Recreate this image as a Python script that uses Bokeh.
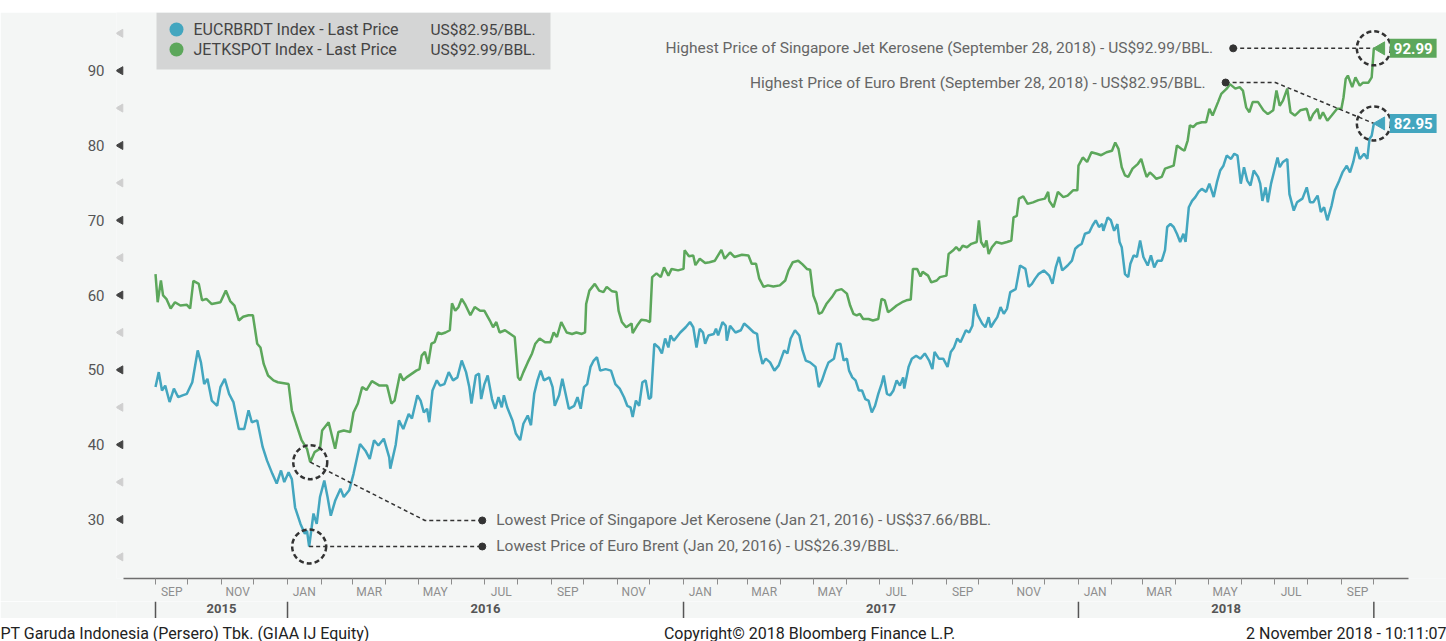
import numpy as np
import pandas as pd
from bokeh.plotting import figure
from bokeh.models import Range1d, FixedTicker, BoxAnnotation, Label, ColumnDataSource, Spacer
from bokeh.layouts import column
from bokeh.embed import file_html
from bokeh.resources import INLINE
from bokeh.core.properties import value

# ---------------- data ----------------
BASE_DATE = "2015-09-01"   # day 0 of the day offsets below

# Singapore Jet Kerosene (JETKSPOT Index), days since BASE_DATE and US$/bbl
jet_days = [0,2,5,7,10,14,18,23,29,32,35,40,43,47,52,60,65,69,73,77,81,86,90,94,97,100,104,109,113,123,126,130,135,140,143,147,152,154,160,166,169,174,180,183,187,191,195,200,207,214,218,221,226,229,232,237,241,244,246,249,252,255,258,261,264,268,272,274,277,280,283,286,291,295,300,304,309,312,315,318,323,328,332,335,337,340,344,348,351,355,360,365,368,371,375,380,385,389,394,397,398,401,406,410,414,417,422,426,428,431,435,440,441,445,449,454,457,459,463,467,470,474,477,483,488,489,493,497,499,503,508,512,517,523,526,531,535,542,548,551,555,558,562,566,571,577,582,585,589,594,598,602,605,608,611,613,616,620,625,629,634,639,642,645,648,651,654,659,663,668,671,674,677,680,685,690,694,698,700,704,707,709,714,717,722,725,731,733,737,740,743,746,750,754,759,761,763,766,768,770,773,777,782,787,791,793,796,798,802,806,811,816,822,825,826,830,834,839,843,848,852,853,857,861,865,870,874,879,884,887,890,893,896,899,903,908,911,914,916,919,922,925,930,933,937,941,944,948,951,954,956,959,962,967,971,974,977,982,985,990,993,998,1002,1005,1008,1011,1014,1019,1024,1028,1033,1036,1039,1042,1046,1049,1053,1058,1064,1067,1070,1074,1076,1079,1083,1087,1092,1096,1098,1100,1102,1106,1109,1113,1116,1121,1124,1126]
jet_vals = [62.8,59.05,61.95,59.95,59.5,58.2,59.05,58.6,58.7,58.2,61.9,61.5,59.3,59.5,58.8,59.05,60.6,59.2,58.6,56.6,57.1,57.3,57.3,53.5,53.0,50.8,49.25,48.6,48.35,48.1,44.6,42.8,40.6,39.45,37.66,39.0,39.45,41.9,43.0,39.45,41.7,41.9,41.7,44.3,45.5,47.7,47.3,48.5,47.9,47.9,45.5,45.9,49.5,48.6,49.0,49.5,49.9,50.1,51.9,52.4,50.8,53.5,53.7,55.0,54.8,55.0,55.3,58.9,57.9,58.4,59.5,58.8,57.3,58.4,57.9,57.9,56.6,55.7,56.4,55.0,55.3,54.8,54.4,49.0,48.6,49.7,51.0,52.2,53.5,54.2,53.7,53.7,55.0,54.4,56.4,55.0,54.8,55.0,54.8,55.0,58.8,60.6,61.5,60.6,60.4,61.1,60.5,60.4,57.9,56.4,55.7,56.2,54.9,55.9,56.7,56.6,56.4,62.4,62.9,62.4,63.7,62.6,63.5,63.3,63.5,66.0,65.2,65.3,64.0,64.85,64.3,64.4,64.6,66.05,64.85,65.7,65.1,65.4,65.3,64.2,64.2,62.2,61.1,61.3,61.15,61.3,61.95,63.3,64.4,64.6,64.1,63.5,63.4,59.95,58.8,57.5,57.7,58.8,59.7,60.6,60.8,60.2,58.6,57.5,57.3,57.5,56.8,56.8,56.6,56.8,59.5,59.3,57.7,58.0,58.6,59.05,59.3,59.4,63.5,63.5,62.5,63.1,62.6,61.7,61.95,62.4,62.6,65.5,65.95,66.4,65.95,66.6,66.4,66.85,67.1,70.0,67.1,66.4,67.3,65.5,66.4,67.1,66.9,67.1,67.3,70.4,70.6,72.9,73.2,72.2,72.4,72.7,72.9,73.8,72.6,71.75,73.8,73.1,73.3,74.0,74.0,77.3,78.4,77.8,79.1,78.9,78.7,79.1,79.3,80.4,79.55,77.1,76.0,75.8,76.9,77.55,78.2,76.7,75.8,76.4,76.0,75.55,75.8,76.9,77.1,77.3,80.0,79.55,79.3,80.7,82.7,82.45,82.9,83.1,83.1,84.9,84.0,85.8,86.9,87.6,88.2,87.6,87.8,87.35,85.1,84.45,85.8,85.8,84.7,84.2,84.7,87.35,85.3,86.0,87.6,84.45,84.0,84.7,84.9,83.3,84.2,84.9,83.55,84.45,83.3,84.0,84.9,84.9,86.45,88.9,89.35,87.8,89.1,88.0,88.4,88.4,89.1,92.99]

# Euro Brent (EUCRBRDT Index), days since BASE_DATE and US$/bbl
brent_days = [0,3,6,9,13,17,21,25,29,34,39,42,45,48,52,57,60,64,68,72,77,82,86,89,94,99,103,108,112,116,119,123,126,129,134,138,140,142,146,149,152,156,159,162,166,171,174,179,183,189,194,198,202,206,211,216,217,222,225,229,234,237,242,245,248,251,253,256,260,263,267,271,275,279,283,287,290,292,296,299,301,304,307,311,314,317,320,322,325,330,333,337,340,344,347,350,353,356,359,364,367,369,373,376,379,382,387,390,393,396,399,402,405,408,411,416,421,425,429,433,436,439,441,444,447,450,453,456,458,461,465,468,471,474,476,479,485,490,494,497,500,503,506,508,511,516,518,520,524,527,528,531,536,541,544,548,553,556,558,561,564,568,572,576,581,584,587,591,595,598,601,605,610,613,616,619,622,627,630,633,636,639,641,644,647,650,653,656,659,662,665,668,671,673,676,679,682,685,688,691,692,696,699,703,707,711,715,718,720,724,728,732,735,738,741,744,749,752,755,757,760,764,767,770,772,775,778,781,784,787,790,795,799,804,807,810,813,816,821,826,829,832,835,838,843,847,850,853,856,859,863,866,869,872,875,876,880,883,886,889,891,893,896,899,901,904,907,910,913,917,920,923,926,930,933,935,938,941,944,947,950,952,955,958,961,964,967,971,974,978,981,984,987,990,994,997,1000,1003,1006,1009,1012,1015,1019,1021,1023,1026,1028,1031,1034,1037,1039,1042,1046,1048,1052,1055,1060,1064,1067,1070,1074,1077,1080,1083,1087,1090,1094,1097,1101,1104,1107,1110,1113,1117,1120,1122,1124,1126]
brent_vals = [47.7,49.7,47.25,47.9,45.7,47.5,46.35,46.6,46.8,48.35,52.6,51.0,48.1,48.8,45.9,45.2,47.7,48.8,46.8,45.7,42.1,42.1,44.6,43.0,43.25,39.7,37.9,36.1,34.8,36.55,35.0,36.3,35.4,31.6,29.4,28.1,28.5,26.39,30.8,29.4,33.0,35.2,33.0,30.5,32.5,34.1,33.0,33.9,36.1,40.1,39.2,38.1,40.6,39.9,40.8,38.3,36.8,40.0,43.25,42.1,44.1,43.5,46.6,45.9,44.3,44.8,43.0,47.25,48.6,47.9,48.1,49.7,48.6,49.0,51.25,49.7,47.7,45.5,49.25,49.5,46.1,48.1,49.25,46.1,44.8,46.35,45.0,46.6,45.0,43.2,41.5,40.6,42.8,43.9,42.6,46.8,48.6,49.9,48.6,49.0,47.7,45.2,46.6,48.8,46.8,44.8,45.2,46.35,44.8,47.7,48.1,50.4,51.25,51.7,49.9,50.1,49.9,48.1,47.5,46.35,45.2,45.0,43.7,45.9,45.2,48.35,48.6,46.1,46.35,53.5,53.0,52.2,54.2,53.0,54.6,53.9,55.0,55.7,56.4,55.7,53.0,55.5,55.0,53.5,54.6,54.8,55.5,54.6,56.4,55.9,53.9,55.9,55.0,55.3,56.2,55.7,55.0,54.8,52.6,50.8,51.5,51.0,49.9,50.6,52.6,52.2,54.2,55.3,54.6,52.6,51.25,51.0,50.4,47.7,48.6,49.9,51.0,51.5,53.5,53.5,51.25,51.5,49.9,49.0,48.6,47.25,47.25,46.1,45.9,44.3,45.2,46.8,48.1,49.25,46.8,46.6,47.25,48.6,47.9,49.0,47.5,50.4,51.5,51.9,51.5,52.2,51.25,50.1,52.4,51.5,51.5,50.4,52.4,53.0,54.2,53.7,55.3,55.0,55.9,58.8,57.3,56.2,55.7,57.05,55.7,56.4,57.05,58.4,57.5,58.2,60.4,60.8,63.95,63.5,61.1,61.5,62.2,62.8,63.3,62.6,61.5,63.7,65.1,63.3,63.95,64.6,66.2,66.6,66.85,68.2,68.4,69.3,70.0,69.1,69.5,68.6,70.4,70.0,68.6,69.5,67.1,66.4,62.8,62.4,64.2,65.3,65.1,67.3,65.1,63.95,65.3,63.7,64.6,64.6,66.0,69.1,69.5,69.1,68.2,67.1,68.2,67.1,71.75,72.6,73.1,73.8,74.2,73.8,74.9,73.1,75.1,76.65,77.3,78.65,78.2,78.9,78.65,74.9,77.1,75.3,74.65,76.65,75.8,74.9,72.6,74.4,72.4,74.9,76.65,78.4,77.1,77.8,78.2,73.5,71.3,72.4,72.9,74.4,72.4,72.4,73.3,71.1,71.75,70.0,72.0,74.0,75.3,76.4,77.3,76.4,77.8,79.8,78.2,78.9,78.2,80.9,81.3,82.95]

series_names = ["EUCRBRDT Index - Last Price", "JETKSPOT Index - Last Price"]
series_last = ["US$82.95/BBL.", "US$92.99/BBL."]
last_tags = ["82.95", "92.99"]
low_texts = ["Lowest Price of Euro Brent (Jan 20, 2016) - US$26.39/BBL.",
             "Lowest Price of Singapore Jet Kerosene (Jan 21, 2016) - US$37.66/BBL."]
high_texts = ["Highest Price of Euro Brent (September 28, 2018) - US$82.95/BBL.",
              "Highest Price of Singapore Jet Kerosene (September 28, 2018) - US$92.99/BBL."]
y_major = [30, 40, 50, 60, 70, 80, 90]
y_minor = [25, 35, 45, 55, 65, 75, 85, 95]
year_bounds = ["2015-09-01", "2016-01-01", "2017-01-01", "2018-01-01", "2018-10-01"]
year_labels = ["2015", "2016", "2017", "2018"]
footer_left = "PT Garuda Indonesia (Persero) Tbk. (GIAA IJ Equity)"
footer_mid = "Copyright\u00a9 2018 Bloomberg Finance L.P."
footer_right = "2 November 2018 - 10:11:07"

# ---------------- styling / layout ----------------
BLUE = "#43a6bf"
GREEN = "#5ca75b"
BG = "#f4f6f5"
INK = "#333333"
TXT = "#666666"
FONT = "Roboto"

W = 1446
TOP_GAP = 12
FL = 116                 # frame left (page px)
AXL = 123                # where the x axis line starts (page px)
FW = W - FL              # frame width
FH = 566                 # frame height
H2 = 17                  # year row height
H3 = 24                  # footer height

PX_PER_DAY = 1.082
X_AX0 = pd.Timestamp("2015-08-02 10:00")                 # date at page x = AXL
X0 = X_AX0 - pd.Timedelta(days=(AXL - FL) / PX_PER_DAY)   # date at frame left
X1 = X0 + pd.Timedelta(days=FW / PX_PER_DAY)
AX_END = pd.Timestamp("2018-11-02")
Y0, Y1 = 22.11, 97.78

EPOCH = pd.Timestamp("1970-01-01")
def ms(ts):
    return (pd.Timestamp(ts) - EPOCH) / pd.Timedelta(milliseconds=1)

MS_PER_PX = (ms(X1) - ms(X0)) / FW
def sx(page_x):   # page px -> data x (ms)
    return ms(X0) + (page_x - FL) * MS_PER_PX
def sy(page_y):   # page px -> data y
    return Y1 - (page_y - TOP_GAP) / FH * (Y1 - Y0)

base = pd.Timestamp(BASE_DATE)
brent_dt = [base + pd.Timedelta(days=d) for d in brent_days]
jet_dt = [base + pd.Timedelta(days=d) for d in jet_days]

xr = Range1d(ms(X0), ms(X1))
p = figure(width=W, frame_height=FH, x_axis_type="datetime",
           x_range=xr, y_range=Range1d(Y0, Y1),
           toolbar_location=None, output_backend="svg",
           min_border_left=FL, min_border_right=0, min_border_top=0, min_border_bottom=0)
p.background_fill_color = BG
p.border_fill_color = BG
p.outline_line_color = None
p.xgrid.visible = False
p.ygrid.visible = False

# y axis (labels only; tick markers drawn as small left-pointing triangles)
ya = p.yaxis[0]
ya.ticker = FixedTicker(ticks=y_major, minor_ticks=y_minor)
ya.axis_line_color = None
ya.major_tick_line_color = None
ya.minor_tick_line_color = None
ya.major_tick_out = 0
ya.major_tick_in = 0
ya.minor_tick_out = 0
ya.minor_tick_in = 0
ya.major_label_standoff = 12
ya.major_label_text_font = FONT
ya.major_label_text_font_size = "15px"
ya.major_label_text_color = "#555555"
tri_x = sx(120)
p.scatter([tri_x] * len(y_major), y_major, marker="triangle", size=8, angle=np.pi / 2,
          color="#444444")
p.scatter([tri_x] * len(y_minor), y_minor, marker="triangle", size=8, angle=np.pi / 2,
          color="#cfcfcf")

# month axis
month_starts = pd.date_range("2015-09-01", "2018-10-01", freq="MS")
label_months = pd.date_range("2015-09-01", "2018-09-01", freq="2MS")
mids = [m + (m + pd.offsets.MonthBegin(1) - m) / 2 for m in label_months]
mid_ms = [int(ms(m)) for m in mids]
xa = p.xaxis[0]
xa.bounds = (ms(X_AX0), ms(AX_END))
xa.ticker = FixedTicker(ticks=mid_ms, minor_ticks=[int(ms(m)) for m in month_starts])
xa.major_label_overrides = {t: m.strftime("%b").upper() for t, m in zip(mid_ms, label_months)}
xa.axis_line_color = "#6e6e6e"
xa.axis_line_width = 1.5
xa.major_tick_line_color = None
xa.major_tick_out = 0
xa.major_tick_in = 0
xa.minor_tick_line_color = "#8c8c8c"
xa.minor_tick_out = 6
xa.minor_tick_in = 0
xa.major_label_standoff = 0
xa.major_label_text_font = FONT
xa.major_label_text_font_size = "12px"
xa.major_label_text_color = "#8e8e8e"

# legend box (top-left)
p.add_layout(BoxAnnotation(left=sx(156), right=sx(550), top=Y1, bottom=sy(69),
                           fill_color="#d4d5d5", fill_alpha=1.0, line_color=None,
                           level="underlay"))

# series lines
src_b = ColumnDataSource(dict(x=brent_dt, y=brent_vals))
src_j = ColumnDataSource(dict(x=jet_dt, y=jet_vals))
p.line("x", "y", source=src_b, line_color=BLUE, line_width=2.5)
p.line("x", "y", source=src_j, line_color=GREEN, line_width=2.5)

# legend entries
for i, (name, lastv, col) in enumerate(zip(series_names, series_last, [BLUE, GREEN])):
    yrow = sy(29 + 20 * i)
    p.scatter([sx(176)], [yrow], marker="circle", size=14, fill_color=col, line_color=None)
    p.add_layout(Label(x=sx(193), y=yrow, text=name, text_baseline="middle",
                       text_font=FONT, text_font_size="16px", text_color="#444444"))
    p.add_layout(Label(x=sx(430), y=yrow, text=lastv, text_baseline="middle",
                       text_font=FONT, text_font_size="15.5px", text_color="#444444"))

# extremes
ib_min = int(np.argmin(brent_vals)); ij_min = int(np.argmin(jet_vals))
ib_max = int(np.argmax(brent_vals)); ij_max = int(np.argmax(jet_vals))
b_low = (ms(brent_dt[ib_min]), brent_vals[ib_min])
j_low = (ms(jet_dt[ij_min]), jet_vals[ij_min])
b_high = (ms(brent_dt[ib_max]), brent_vals[ib_max])
j_high = (ms(jet_dt[ij_max]), jet_vals[ij_max])

DASH = dict(line_color=INK, line_width=1.5, line_dash="4 3")
ANN = dict(text_font=FONT, text_font_size="15.5px", text_color=TXT, text_baseline="middle")

# callout anchors (layout positions)
low_dot_x = ms("2016-06-29")
j_elbow = (ms("2016-05-07"), 29.87)
p.line([b_low[0], low_dot_x], [b_low[1], b_low[1]], **DASH)
p.line([j_low[0], j_elbow[0], low_dot_x], [j_low[1], j_elbow[1], j_elbow[1]], **DASH)
p.scatter([low_dot_x, low_dot_x], [b_low[1], j_elbow[1]], marker="circle", size=7, color=INK)
p.add_layout(Label(x=low_dot_x, y=b_low[1], x_offset=14, text=low_texts[0], **ANN))
p.add_layout(Label(x=low_dot_x, y=j_elbow[1], x_offset=14, text=low_texts[1], **ANN))

j_dot_x = ms("2018-05-24")
b_dot = (ms("2018-05-17"), 88.42)
b_elbow_x = ms("2018-07-02")
p.line([j_dot_x, j_high[0]], [j_high[1], j_high[1]], **DASH)
p.line([b_dot[0], b_elbow_x, b_high[0]], [b_dot[1], b_dot[1], b_high[1]], **DASH)
p.scatter([j_dot_x, b_dot[0]], [j_high[1], b_dot[1]], marker="circle", size=7, color=INK)
p.add_layout(Label(x=j_dot_x, y=j_high[1], x_offset=-20, text=high_texts[1], text_align="right", **ANN))
p.add_layout(Label(x=b_dot[0], y=b_dot[1], x_offset=-20, text=high_texts[0], text_align="right", **ANN))

# dashed circles around extremes
cx = [b_low[0], j_low[0], b_high[0], j_high[0]]
cy = [b_low[1], j_low[1], b_high[1], j_high[1]]
p.scatter(cx, cy, marker="circle", size=34, fill_color=None, line_color=INK,
          line_width=2.5, line_dash="5 3")

# last-value tags
for pt, tag, col in [(b_high, last_tags[0], BLUE), (j_high, last_tags[1], GREEN)]:
    p.scatter([pt[0] + 7 * MS_PER_PX], [pt[1]], marker="triangle", size=13, angle=np.pi / 2,
              color=col)
    p.add_layout(Label(x=pt[0], y=pt[1], x_offset=16, text=tag, text_baseline="middle",
                       text_font=FONT, text_font_size="15px", text_font_style="bold",
                       text_color="white", background_fill_color=col, padding=4))

# year row (shares the x scale)
f2 = figure(width=W, height=H2, x_range=xr, y_range=Range1d(0, 1),
            toolbar_location=None, output_backend="svg",
            min_border_left=FL, min_border_right=0, min_border_top=0, min_border_bottom=0,
            x_axis_location=None, y_axis_location=None)
f2.background_fill_color = BG
f2.border_fill_color = BG
f2.outline_line_color = None
f2.xgrid.visible = False
f2.ygrid.visible = False
yb = [pd.Timestamp(b) for b in year_bounds]
ymid = [a + (b - a) / 2 for a, b in zip(yb[:-1], yb[1:])]
f2.segment(x0=yb, y0=[0] * len(yb), x1=yb, y1=[1] * len(yb), line_color="#555555", line_width=1.5)
f2.text(x=ymid, y=[0.6] * len(ymid), text=year_labels, text_align="center", text_baseline="middle",
        text_font=value(FONT), text_font_size="13px", text_font_style="bold", text_color="#555555")

root1 = column(Spacer(width=W, height=TOP_GAP), p, f2)

# footer
f3 = figure(width=W, height=H3, x_range=Range1d(0, W), y_range=Range1d(0, H3),
            toolbar_location=None, output_backend="svg", min_border=0,
            x_axis_location=None, y_axis_location=None)
f3.outline_line_color = None
f3.background_fill_color = "white"
f3.border_fill_color = "white"
f3.xgrid.visible = False
f3.ygrid.visible = False
for xx, txt, al in [(0, footer_left, "left"), (809, footer_mid, "center"), (W, footer_right, "right")]:
    f3.add_layout(Label(x=xx, y=9, text=txt, text_align=al, text_baseline="middle",
                        text_font=FONT, text_font_size="16px", text_color="#222222"))

open("out.html", "w").write(file_html([root1, f3], INLINE))
